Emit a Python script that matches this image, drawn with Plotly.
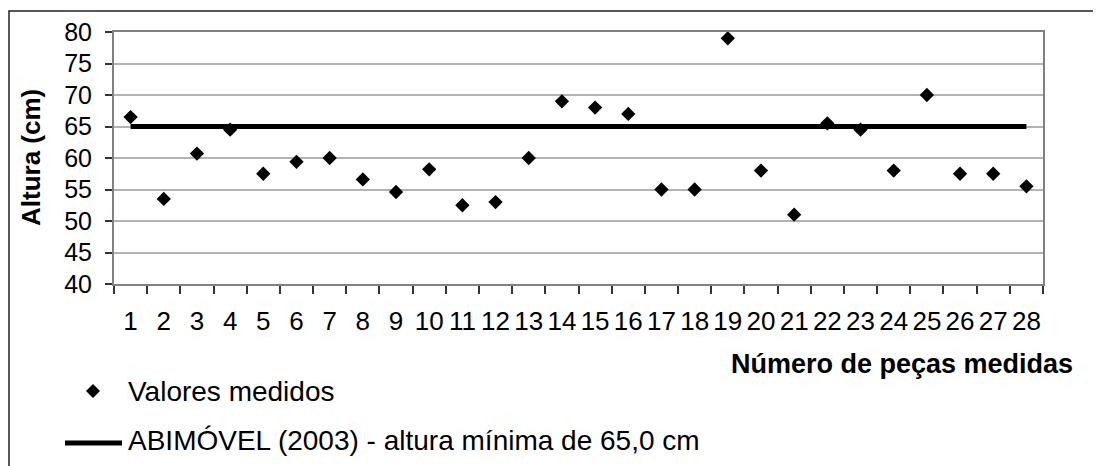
import plotly.graph_objects as go

# ---- data ----
pecas = [str(i) for i in range(1, 29)]
valores_medidos = [66.5, 53.5, 60.7, 64.5, 57.5, 59.4, 60.0, 56.6, 54.6, 58.2,
                   52.5, 53.0, 60.0, 69.0, 68.0, 67.0, 55.0, 55.0, 79.0, 58.0,
                   51.0, 65.5, 64.5, 58.0, 70.0, 57.5, 57.5, 55.5]
altura_minima = [65.0] * len(pecas)
y_ticks = [40, 45, 50, 55, 60, 65, 70, 75, 80]

nome_medidos = "Valores medidos"
nome_minimo = "ABIMÓVEL (2003) - altura mínima de 65,0 cm"
titulo_x = "Número de peças medidas"
titulo_y = "Altura (cm)"

# ---- layout geometry (window pixels; the page body adds an 8px offset) ----
OFF = 8
W, H = 1101 - OFF, 466 - OFF
PLOT_X0, PLOT_X1, PLOT_Y0, PLOT_Y1 = 114, 1043, 32, 284   # window coords
L = PLOT_X0 - OFF
T = PLOT_Y0 - OFF
R = W - (PLOT_X1 - OFF)
B = H - (PLOT_Y1 - OFF)
PW, PH = PLOT_X1 - PLOT_X0, PLOT_Y1 - PLOT_Y0


def px(x):
    return (x - PLOT_X0) / PW


def py(y):
    return (PLOT_Y1 - y) / PH


FONT = "Liberation Sans, Arial, sans-serif"

fig = go.Figure()
fig.add_trace(go.Scatter(
    x=pecas, y=altura_minima, mode="lines", name=nome_minimo,
    line=dict(color="black", width=5), showlegend=False, hoverinfo="skip"))
fig.add_trace(go.Scatter(
    x=pecas, y=valores_medidos, mode="markers", name=nome_medidos,
    marker=dict(symbol="diamond", size=11, color="black"), showlegend=False))

fig.update_layout(
    width=W, height=H,
    margin=dict(l=L, r=R, t=T, b=B, pad=0, autoexpand=False),
    paper_bgcolor="white", plot_bgcolor="white",
    font=dict(family=FONT, size=26, color="black"),
    showlegend=False,
)
fig.update_xaxes(
    type="category", categoryorder="array", categoryarray=pecas,
    range=[-0.5, len(pecas) - 0.5],
    tickson="boundaries", ticks="outside", ticklen=8, tickwidth=1.5,
    tickcolor="#333", showline=True, linecolor="#808080", linewidth=2,
    mirror=True, showgrid=False, zeroline=False, ticklabelstandoff=13,
    tickfont=dict(family=FONT, size=26, color="black"), tickangle=0,
)
fig.update_yaxes(
    range=[40, 80], tickvals=y_ticks, ticktext=[str(v) for v in y_ticks],
    ticks="outside", ticklen=7, tickwidth=1.5, tickcolor="#333",
    showline=True, linecolor="#808080", linewidth=2, mirror=True,
    showgrid=True, gridcolor="#b3b3b3", gridwidth=1.5, zeroline=False,
    ticklabelstandoff=8,
    tickfont=dict(family=FONT, size=25, color="black"),
)

ann = []
ann.append(dict(text="<b>%s</b>" % titulo_y, x=px(31), y=py(158), xref="paper", yref="paper",
                xanchor="center", yanchor="middle", textangle=-90, showarrow=False,
                font=dict(family=FONT, size=26, color="black")))
ann.append(dict(text="<b>%s</b>" % titulo_x, x=px(1075), y=py(364), xref="paper", yref="paper",
                xanchor="right", yanchor="middle", showarrow=False,
                font=dict(family=FONT, size=27, color="black")))
ann.append(dict(text=nome_medidos, x=px(126), y=py(391), xref="paper", yref="paper",
                xanchor="left", yanchor="middle", showarrow=False,
                font=dict(family=FONT, size=28, color="black")))
ann.append(dict(text=nome_minimo, x=px(126), y=py(440), xref="paper", yref="paper",
                xanchor="left", yanchor="middle", showarrow=False,
                font=dict(family=FONT, size=28, color="black")))
fig.update_layout(annotations=ann)

shapes = []
# outer chart border (extends past the bottom/right edges)
shapes.append(dict(type="rect", xref="paper", yref="paper",
                   x0=px(9), x1=px(1130), y0=py(500), y1=py(11),
                   line=dict(color="#222", width=1.5), fillcolor="rgba(0,0,0,0)", layer="below"))
# legend keys
dx, dy = 7, 7
cx, cy = 93, 391
shapes.append(dict(type="path", xref="paper", yref="paper",
                   path="M %f,%f L %f,%f L %f,%f L %f,%f Z" % (
                       px(cx - dx), py(cy), px(cx), py(cy - dy),
                       px(cx + dx), py(cy), px(cx), py(cy + dy)),
                   fillcolor="black", line=dict(color="black", width=0)))
shapes.append(dict(type="line", xref="paper", yref="paper",
                   x0=px(65), x1=px(122), y0=py(443), y1=py(443),
                   line=dict(color="black", width=5)))
fig.update_layout(shapes=shapes)

fig.write_html("out.html")
